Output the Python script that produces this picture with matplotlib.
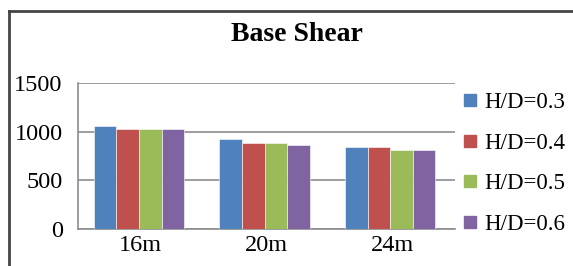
import matplotlib.pyplot as plt
import numpy as np
from matplotlib.lines import Line2D

plt.rcParams['font.family'] = ['Liberation Serif', 'DejaVu Serif']

categories = ['16m', '20m', '24m']
series = ['H/D=0.3', 'H/D=0.4', 'H/D=0.5', 'H/D=0.6']
values = [
    [1055, 928, 846],
    [1031, 887, 846],
    [1031, 887, 809],
    [1030, 866, 809],
]
colors = ['#4F81BD', '#C0504D', '#9BBB59', '#8064A2']

fig = plt.figure(figsize=(5.73, 2.66), dpi=100)
ax = fig.add_axes([0.136, 0.139, 0.658, 0.549])

x = np.arange(len(categories))
w = 0.18
for i, s in enumerate(series):
    ax.bar(x + (i - 1.5) * w - 0.015, values[i], w, color=colors[i], label=s,
           edgecolor='white', linewidth=0.4, zorder=3)

ax.set_xlim(-0.5, 2.5)
ax.set_ylim(0, 1500)
ax.set_yticks([0, 500, 1000, 1500])
ax.set_xticks(x)
ax.set_xticklabels(categories)
ax.grid(axis='y', color='#8c8c8c', linewidth=1.2, zorder=0)
for side in ['top', 'right']:
    ax.spines[side].set_visible(False)
for side in ['left', 'bottom']:
    ax.spines[side].set_color('#8c8c8c')
    ax.spines[side].set_linewidth(1.2)
ax.tick_params(axis='both', length=0, labelsize=17.5)
ax.tick_params(axis='y', pad=11)
ax.tick_params(axis='x', pad=4)

fig.text(0.518, 0.87, 'Base Shear', ha='center', va='center',
         fontsize=20, fontweight='bold')

handles = [Line2D([], [], marker='s', linestyle='', markersize=8,
                  markerfacecolor=c, markeredgecolor=c) for c in colors]
fig.legend(handles, series, loc='upper left', bbox_to_anchor=(0.808, 0.655),
           frameon=False, fontsize=16.5, handlelength=0.6, handletextpad=0.35,
           labelspacing=0.86, borderaxespad=0, borderpad=0)

# outer frame (left and top edges only)
fig.add_artist(Line2D([0.0155, 0.0155], [0, 0.96], transform=fig.transFigure,
                      color='#444444', linewidth=2))
fig.add_artist(Line2D([0.0155, 1.0], [0.96, 0.96], transform=fig.transFigure,
                      color='#444444', linewidth=2))

fig.savefig('out.png', dpi=100)
